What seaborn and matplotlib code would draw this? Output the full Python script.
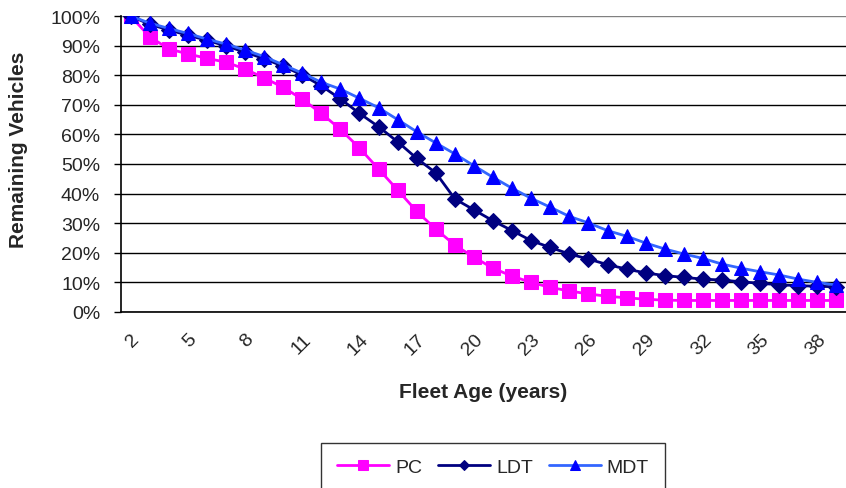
import matplotlib
matplotlib.use("Agg")
import matplotlib.pyplot as plt
import seaborn as sns
import numpy as np
import pandas as pd

ages = list(range(2, 40))
pc = [100, 93, 88.9, 87.2, 85.7, 84.4, 82.1, 79.1, 75.9, 71.9, 67.1, 61.7, 55.4, 48.3,
      41.2, 34.0, 28.0, 22.6, 18.5, 14.8, 12.1, 10.0, 8.3, 7.1, 6.1, 5.3, 4.8, 4.3,
      4.0, 3.9, 3.9, 3.9, 3.9, 3.9, 3.9, 3.9, 3.9, 3.9]
ldt = [100, 97.2, 95.3, 93.5, 91.8, 89.9, 87.8, 85.6, 83.0, 80.1, 76.4, 72.0, 67.1, 62.6,
       57.5, 51.9, 47.0, 38.2, 34.5, 30.8, 27.5, 24.1, 21.8, 19.6, 17.9, 16.0, 14.5,
       13.2, 12.3, 11.7, 11.1, 10.8, 10.2, 9.7, 9.2, 8.9, 8.7, 8.5]
mdt = [100, 97.6, 95.8, 94.1, 92.2, 90.5, 88.5, 86.3, 83.5, 80.7, 77.6, 75.3, 72.2, 69.0,
       65.0, 60.9, 57.1, 53.4, 49.4, 45.5, 41.8, 38.4, 35.4, 32.3, 30.1, 27.5, 25.6,
       23.3, 21.3, 19.6, 18.1, 16.2, 14.8, 13.6, 12.5, 11.1, 10.0, 9.1]
y_ticks = [0, 10, 20, 30, 40, 50, 60, 70, 80, 90, 100]
x_tick_labels = [str(a) for a in ages[::3]]

sns.set_style("white")
plt.rcParams['font.family'] = ['Liberation Sans', 'DejaVu Sans']

W, H = 846, 489
fig = plt.figure(figsize=(W / 100, H / 100), dpi=100)
ax = fig.add_axes([121 / W, (H - 313) / H, (W - 121) / W, (313 - 17) / H])

df = pd.DataFrame({"age": ages, "PC": pc, "LDT": ldt, "MDT": mdt})

sns.lineplot(data=df, x="age", y="PC", ax=ax, color="#FF00FF", lw=2, marker="s",
             markersize=10.5, markerfacecolor="#FF00FF", markeredgecolor="#FF00FF",
             label="PC", zorder=3)
sns.lineplot(data=df, x="age", y="LDT", ax=ax, color="#000080", lw=2, marker="D",
             markersize=8, markerfacecolor="#000080", markeredgecolor="#000080",
             label="LDT", zorder=4)
sns.lineplot(data=df, x="age", y="MDT", ax=ax, color="#3366FF", lw=2, marker="^",
             markersize=10, markerfacecolor="#0000FF", markeredgecolor="#0000FF",
             label="MDT", zorder=5)

ax.set_xlim(1.5, 1.5 + (W - 121) / 19.33)
ax.set_ylim(0, 100)
ax.set_yticks(y_ticks)
ax.set_yticklabels([f"{v}%" for v in y_ticks], fontsize=14)
ax.set_xticks(ages[::3])
ax.set_xticklabels(x_tick_labels, fontsize=14, rotation=45, ha="right",
                   va="top", rotation_mode="anchor")
ax.set_xticks([a - 0.5 for a in ages] + [ages[-1] + 0.5], minor=True)
ax.tick_params(axis="x", which="major", length=0, pad=13)
ax.tick_params(axis="x", which="minor", length=5, width=1, color="black", direction="out")
ax.tick_params(axis="y", length=5, width=1, color="black", direction="out", left=True, pad=10)

ax.yaxis.grid(True, color="black", lw=1)
ax.get_ygridlines()[-1].set_color("#808080")
ax.set_axisbelow(True)
for s in ["top", "right"]:
    ax.spines[s].set_visible(False)
for s in ["left", "bottom"]:
    ax.spines[s].set_color("black")
    ax.spines[s].set_linewidth(1.2)

ax.set_xlabel("")
ax.set_ylabel("")
fig.text(18 / W, 1 - 150 / H, "Remaining Vehicles", rotation=90, ha="center",
         va="center", fontsize=15, fontweight="bold")
fig.text(483 / W, 1 - 393 / H, "Fleet Age (years)", ha="center", va="center",
         fontsize=15, fontweight="bold")

ax.get_legend().remove()
handles, labels = ax.get_legend_handles_labels()
leg = fig.legend(handles, labels, loc="upper center", bbox_to_anchor=(493 / W, 1 - 444 / H),
                 ncol=3, frameon=True, fancybox=False, edgecolor="black", fontsize=14,
                 handlelength=2.7, handletextpad=0.3, columnspacing=0.8,
                 markerscale=0.7, borderpad=0.8, borderaxespad=0)
leg.get_frame().set_linewidth(1)

fig.savefig("out.png", dpi=100)
